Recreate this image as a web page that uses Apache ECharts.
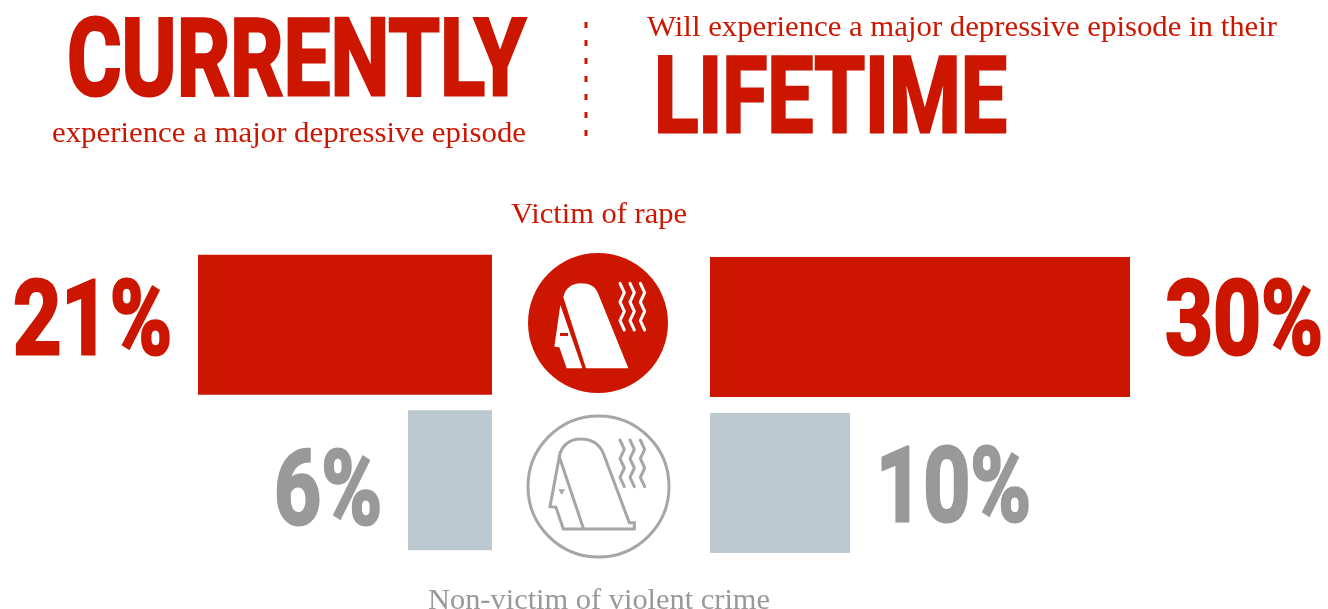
<!DOCTYPE html>
<html>
<head>
<meta charset="utf-8">
<style>html,body{margin:0;padding:0;background:#fff}#c{width:1328px;height:609px}</style>
<script src="https://cdn.jsdelivr.net/npm/echarts@6/dist/echarts.min.js"></script>
</head>
<body>
<div id="c"></div>
<script>
// Share of people with a major depressive episode, by victim group
const groups = ['Victim of rape', 'Non-victim of violent crime'];
const currently = [21, 6];
const lifetime = [30, 10];

const RED = '#cc1600', BAR_GREY = '#bdc9d1', TEXT_GREY = '#999999', ICON_GREY = '#a6a6a6';
const HEAVY = 'Roboto,"Liberation Sans",sans-serif';
const SERIF = '"Liberation Serif","DejaVu Serif",serif';

const chart = echarts.init(document.getElementById('c'), null, { renderer: 'canvas' });

const colored = vals => vals.map((v, i) => ({ value: v, itemStyle: { color: i === 0 ? RED : BAR_GREY } }));
const hiddenValue = (grid, inverse) => ({ type: 'value', gridIndex: grid, min: 0, max: 30, inverse, show: false });
const hiddenCat = grid => ({ type: 'category', gridIndex: grid, data: groups, inverse: true, show: false });

chart.setOption({
  animation: false,
  backgroundColor: '#fff',
  grid: [
    { left: 72, width: 420, top: 247, height: 311 },
    { left: 710, width: 420, top: 249, height: 312 }
  ],
  xAxis: [hiddenValue(0, true), hiddenValue(1, false)],
  yAxis: [hiddenCat(0), hiddenCat(1)],
  series: [
    { name: 'Currently', type: 'bar', xAxisIndex: 0, yAxisIndex: 0, barWidth: 140, data: colored(currently) },
    { name: 'Lifetime', type: 'bar', xAxisIndex: 1, yAxisIndex: 1, barWidth: 140, data: colored(lifetime) }
  ]
});

// Canvas used to work out the horizontal stretch a string needs to fill its span
const probe = document.createElement('canvas').getContext('2d');
function fitted(text, font, color, x0, x1, yMid, weightStroke) {
  probe.font = font;
  const w = probe.measureText(text).width;
  const style = { text, font, fill: color, textAlign: 'left', textVerticalAlign: 'middle' };
  if (weightStroke) { style.stroke = color; style.lineWidth = weightStroke; style.lineJoin = 'miter'; }
  return { type: 'text', x: x0, y: yMid, scaleX: (x1 - x0) / w, silent: true, style };
}

const heavy = size => 'bold ' + size + 'px ' + HEAVY;
const serif = size => size + 'px ' + SERIF;
const els = [];

// Headings
els.push(fitted('CURRENTLY', heavy(108), RED, 67, 526, 68, 3));
els.push(fitted('experience a major depressive episode', serif(30), RED, 52, 526, 134));
els.push(fitted('Will experience a major depressive episode in their', serif(30), RED, 647, 1277, 28));
els.push(fitted('LIFETIME', heavy(105), RED, 654, 1007, 106, 3));
els.push(fitted(groups[0], serif(30), RED, 511, 687, 215));
els.push(fitted(groups[1], serif(30), TEXT_GREY, 428, 770, 601));

// Dotted divider between the two headings
els.push({
  type: 'line', silent: true,
  shape: { x1: 586, y1: 22, x2: 586, y2: 137 },
  style: { stroke: RED, lineWidth: 3, lineDash: [6, 12] }
});

// Percentages placed off the end of each bar
const endL = v => chart.convertToPixel({ xAxisIndex: 0 }, v);
const endR = v => chart.convertToPixel({ xAxisIndex: 1 }, v);
const pct = v => v + '%';
[[currently[0], 159, 328, RED, 26], [currently[1], 108, 498, TEXT_GREY, 26]].forEach(([v, w, y, c, gap]) => {
  const right = endL(v) - gap;
  els.push(fitted(pct(v), heavy(104), c, right - w, right, y, 3));
});
[[lifetime[0], 158, 328, RED, 35], [lifetime[1], 155, 495, TEXT_GREY, 26]].forEach(([v, w, y, c, gap]) => {
  const left = endR(v) + gap;
  els.push(fitted(pct(v), heavy(104), c, left, left + w, y, 3));
});

// Profile icon: hood, face and three wavy lines, in a 600-unit box scaled by a third
const HOOD = 'M190 172C196 145 215 130 242 130C268 130 285 138 294 160L385 385L258 385Z';
const FACE = 'M181 195L163 320L178 322L200 385L247 385Z';
const waveSet = (y0, step) => [360, 390, 421].map(x => {
  let d = `M${x} ${y0}`;
  for (let i = 0; i < 5; i++) {
    const a = i % 2 === 0 ? x + 13 : x;
    d += `L${a} ${y0 + (i + 1) * step}`;
  }
  return d;
}).join('');
const OUTLINE = 'M178 170C184 135 210 117 242 117C270 117 296 127 310 160L388 368L403 368L403 387L190 387L168 322L150 320L178 170L250 385';
const EYE = 'M175 268L195 268L185 285Z';

// The graphic component has no free-form path type, so each outline is registered as a shape
const shapes = { iconHead: HOOD + FACE, iconWavesSolid: waveSet(130, 28), iconWavesLine: waveSet(120, 28), iconOutline: OUTLINE, iconEye: EYE };
Object.keys(shapes).forEach(name => {
  echarts.graphic.registerShape(name, echarts.graphic.extendPath(shapes[name], {}));
});

function icon(ox, oy, solid) {
  const place = { x: ox, y: oy, scaleX: 1 / 3, scaleY: 1 / 3, silent: true };
  if (solid) {
    els.push({ type: 'circle', silent: true, shape: { cx: 598, cy: 323, r: 70 }, style: { fill: RED } });
    els.push({ type: 'iconHead', ...place, style: { fill: '#fff' } });
    els.push({ type: 'rect', silent: true, shape: { x: 560, y: 333, width: 8, height: 3 }, style: { fill: RED } });
    els.push({ type: 'iconWavesSolid', ...place, style: { fill: 'none', stroke: '#fff', lineWidth: 9, lineJoin: 'round', lineCap: 'round' } });
  } else {
    els.push({ type: 'circle', silent: true, shape: { cx: 598.5, cy: 486.5, r: 70.5 }, style: { fill: '#fff', stroke: ICON_GREY, lineWidth: 3 } });
    els.push({ type: 'iconOutline', ...place, style: { fill: 'none', stroke: ICON_GREY, lineWidth: 9 } });
    els.push({ type: 'iconEye', ...place, style: { fill: ICON_GREY } });
    els.push({ type: 'iconWavesLine', ...place, style: { fill: 'none', stroke: ICON_GREY, lineWidth: 9, lineJoin: 'round', lineCap: 'round' } });
  }
}
icon(500, 240, true);
icon(500, 400, false);

chart.setOption({ graphic: { elements: els } });
</script>
</body>
</html>
